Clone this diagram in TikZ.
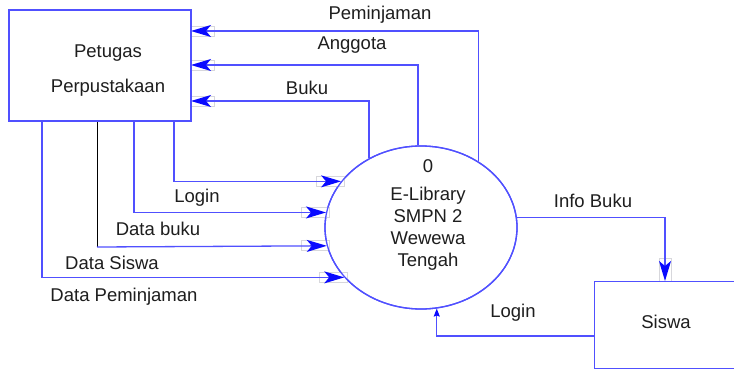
\documentclass[tikz,border=0pt]{standalone}
\usepackage{fontspec}
\setmainfont{Liberation Sans}
\usetikzlibrary{arrows.meta,shapes.geometric,calc}
\definecolor{linecol}{RGB}{80,80,255}
\definecolor{tipcol}{RGB}{10,10,255}
\definecolor{txtcol}{RGB}{30,30,30}
\definecolor{tipbgcol}{RGB}{215,215,220}
\tikzset{
  boxstyle/.style={draw=linecol,line width=1.4pt,rectangle,inner sep=0pt},
  procstyle/.style={draw=linecol,line width=1.3pt,ellipse,inner sep=0pt,minimum width=192pt,minimum height=163pt},
  lbl/.style={text=txtcol,font=\fontsize{18.5}{22}\selectfont,inner sep=0pt},
  flow/.style={draw=linecol,line width=1.3pt,-{Stealth[length=20pt,width=12pt,inset=5pt,color=tipcol]}},
  smallflow/.style={draw=linecol,line width=1.3pt,-{Stealth[length=8pt,width=6pt,inset=1pt,color=tipcol]}},
  tipbg/.style={draw=tipbgcol,fill=white,line width=0.7pt},
}
\begin{document}
\begin{tikzpicture}[x=1pt,y=-1pt]
\clip (0,0) rectangle (734,369);
\fill[white] (0,0) rectangle (734,369);
% nodes
\node[boxstyle,minimum width=182pt,minimum height=111pt] (petugas) at (100,65.5) {};
\node[lbl,align=center] (petugastxt) at (108,70.5) {Petugas\\[12.5pt]Perpustakaan};
\node[procstyle] (proc) at (421,227.5) {};
\node[lbl,align=center] (proctxt) at (428,214.5) {0\\[6pt]E-Library\\SMPN 2\\Wewewa\\Tengah};
\node[boxstyle,minimum width=180pt,minimum height=87pt,anchor=north west] (siswa) at (594,281) {};
\node[lbl] (siswatxt) at (666,322) {Siswa};
% anchor coordinates
\coordinate (sLogin) at (174,121);
\coordinate (sBuku) at (134,121);
\coordinate (sSiswa) at (97,121);
\coordinate (sSiswaCorner) at (97,247);
\coordinate (sPinjam) at (42,121);
\coordinate (tPinjam) at (191,31);
\coordinate (tAnggota) at (191,65);
\coordinate (tBuku) at (191,101);
\coordinate (tInfo) at (665,281);
\coordinate (sLoginSiswa) at (594,336);
% grey tip frames
\draw[tipbg] ($(proc.150.25)+(-25,-5)$) rectangle ++(28,10);
\draw[tipbg] ($(proc.171.9)+(-25,-5)$) rectangle ++(28,10);
\draw[tipbg] ($(proc.191.8)+(-25,-5)$) rectangle ++(28,10);
\draw[tipbg] ($(proc.213)+(-25,-5)$) rectangle ++(28,10);
\draw[tipbg] ($(tPinjam)+(0,-5)$) rectangle ++(23,10);
\draw[tipbg] ($(tAnggota)+(0,-5)$) rectangle ++(23,10);
\draw[tipbg] ($(tBuku)+(0,-5)$) rectangle ++(23,10);
\draw[tipbg] ($(tInfo)+(-6,-23)$) rectangle ++(12,23);
% flows from Petugas
\draw[flow] (sLogin) |- (proc.150.25);
\draw[flow] (sBuku) |- (proc.171.9);
\draw[line width=0.9pt,black] (sSiswa) -- (sSiswaCorner);
\draw[flow] (sSiswaCorner) -- (proc.191.8);
\draw[flow] (sPinjam) |- (proc.213);
% flows to Petugas
\draw[flow] (proc.49) |- (tPinjam);
\draw[flow] (proc.92.8) |- (tAnggota);
\draw[flow] (proc.127.95) |- (tBuku);
% flows with Siswa
\draw[flow] (proc.6.9) -| (tInfo);
\draw[smallflow] (sLoginSiswa) -| (proc.281.25);
% redraw borders over the tip frames
\node[boxstyle,minimum width=182pt,minimum height=111pt] (petugasb) at (100,65.5) {};
\node[procstyle] (procb) at (421,227.5) {};
\node[boxstyle,minimum width=180pt,minimum height=87pt,anchor=north west] (siswab) at (594,281) {};
% labels
\node[lbl] (lPinjam) at (380,15) {Peminjaman};
\node[lbl] (lAnggota) at (352,45) {Anggota};
\node[lbl] (lBuku) at (307,88) {Buku};
\node[lbl] (lLogin) at (197,198) {Login};
\node[lbl] (lDataBuku) at (158,229) {Data buku};
\node[lbl] (lDataSiswa) at (112,263) {Data Siswa};
\node[lbl] (lDataPinjam) at (124,297) {Data Peminjaman};
\node[lbl] (lInfo) at (593,201) {Info Buku};
\node[lbl] (lLogin2) at (513,313) {Login};
\end{tikzpicture}
\end{document}
